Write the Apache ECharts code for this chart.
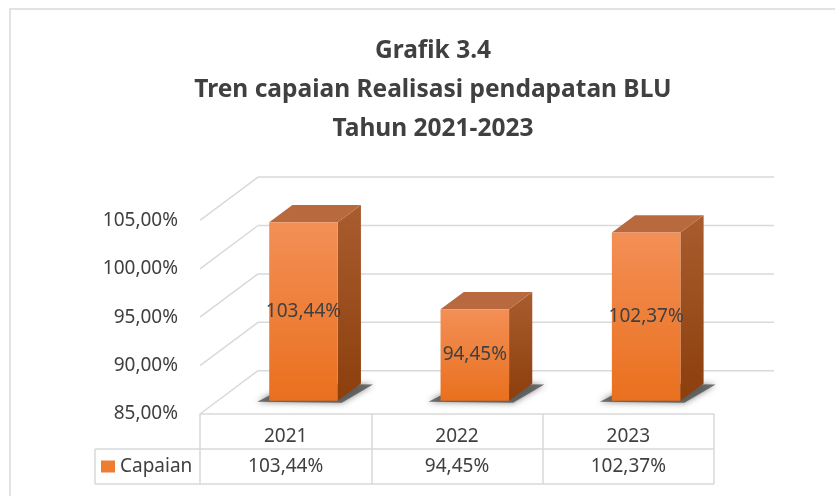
<!DOCTYPE html>
<html>
<head>
<meta charset="utf-8">
<script src="https://cdn.jsdelivr.net/npm/echarts@6/dist/echarts.min.js"></script>
<style>html,body{margin:0;padding:0;background:#fff}#chart{width:835px;height:496px}</style>
</head>
<body>
<div id="chart"></div>
<script>
const years = ['2021', '2022', '2023']
const capaian = [103.44, 94.45, 102.37]
const yTicks = [85, 90, 95, 100, 105]
const seriesName = 'Capaian'

// pseudo 3d depth of floor / walls, in px
const DX = 58, DY = -43.3
const BAR_FRONT = 0.307, BAR_DEPTH = 0.4, BAR_WIDTH = 0.4
const FONT = "'Noto Sans', sans-serif"
const TXT = '#404040', LINE = '#d9d9d9'

function pct(v) { return v.toFixed(2).replace('.', ',') + '%' }

function renderWall(params, api) {
  const cs = params.coordSys
  const y = api.coord([0, api.value(1)])[1]
  const st = { stroke: LINE, lineWidth: 1.5 }
  return {
    type: 'group',
    children: [
      { type: 'line', shape: { x1: cs.x, y1: y, x2: cs.x + DX, y2: y + DY }, style: st },
      { type: 'line', shape: { x1: cs.x + DX, y1: y + DY, x2: cs.x + cs.width + DX + 2, y2: y + DY }, style: st }
    ]
  }
}

function renderBar(params, api) {
  const i = api.value(0), v = api.value(1)
  const top = api.coord([i, v]), base = api.coord([i, yTicks[0]])
  const w = api.size([1, 0])[0] * BAR_WIDTH
  const ox = DX * BAR_FRONT, oy = DY * BAR_FRONT
  const bx = DX * BAR_DEPTH, by = DY * BAR_DEPTH
  const x0 = top[0] - w / 2 + ox, x1 = x0 + w
  const yT = top[1] + oy, yB = base[1] + oy
  return {
    type: 'group',
    children: [
      {
        type: 'polygon',
        shape: { points: [[x0 - 12, yB + 1], [x1 + 4, yB + 2], [x1 + bx + 12, yB + by + 1], [x0 + bx, yB + by]] },
        style: { fill: 'rgba(80,80,80,0.8)', shadowBlur: 6, shadowColor: 'rgba(0,0,0,0.6)' }
      },
      {
        type: 'polygon',
        shape: { points: [[x1, yT], [x1 + bx, yT + by], [x1 + bx, yB + by], [x1, yB]] },
        style: { fill: new echarts.graphic.LinearGradient(0, 0, 0, 1, [{ offset: 0, color: '#a95d2f' }, { offset: 1, color: '#8c3f0c' }]) }
      },
      {
        type: 'polygon',
        shape: { points: [[x0, yT], [x1, yT], [x1 + bx, yT + by], [x0 + bx, yT + by]] },
        style: { fill: '#b86a3e' }
      },
      {
        type: 'rect',
        shape: { x: x0, y: yT, width: w, height: yB - yT },
        style: { fill: new echarts.graphic.LinearGradient(0, 0, 0, 1, [{ offset: 0, color: '#f38f56' }, { offset: 1, color: '#e9701e' }]) }
      },
      {
        type: 'text',
        x: x0 + w / 2, y: (yT + yB) / 2,
        style: { text: pct(v), fill: TXT, fontSize: 19, fontFamily: FONT, align: 'center', verticalAlign: 'middle' }
      }
    ]
  }
}

const chart = echarts.init(document.getElementById('chart'))
chart.setOption({
  animation: false,
  title: {
    text: 'Grafik 3.4\nTren capaian Realisasi pendapatan BLU\nTahun 2021-2023',
    left: 428, top: 27, textAlign: 'center',
    textStyle: { fontSize: 24.5, fontWeight: 'bold', color: TXT, fontFamily: FONT, lineHeight: 39 }
  },
  legend: {
    data: [seriesName], left: 96, top: 452, icon: 'rect', itemWidth: 14, itemHeight: 12,
    textStyle: { fontSize: 19, color: TXT, fontFamily: FONT }
  },
  grid: { left: 200, top: 220.4, width: 514, height: 193.6 },
  xAxis: {
    type: 'category', data: years,
    axisLine: { show: true, onZero: false, lineStyle: { color: LINE, width: 1.5 } },
    axisTick: { show: true, length: 70, lineStyle: { color: LINE, width: 1.5 } },
    axisLabel: {
      margin: 8, fontSize: 19, color: TXT, fontFamily: FONT, lineHeight: 30,
      formatter: (val, idx) => val + '\n' + pct(capaian[idx])
    }
  },
  yAxis: {
    type: 'value', min: 85, max: 105, interval: 5,
    axisLine: { show: false }, axisTick: { show: false }, splitLine: { show: false },
    axisLabel: { margin: 22, fontSize: 19, color: TXT, fontFamily: FONT, formatter: v => pct(v) }
  },
  graphic: [
    { type: 'rect', shape: { x: 10, y: 9, width: 900, height: 600 }, style: { fill: 'transparent', stroke: LINE, lineWidth: 1.5 }, z: -1 },
    { type: 'line', shape: { x1: 95, y1: 449, x2: 714, y2: 449 }, style: { stroke: LINE, lineWidth: 1.5 } },
    { type: 'line', shape: { x1: 95, y1: 484, x2: 714, y2: 484 }, style: { stroke: LINE, lineWidth: 1.5 } },
    { type: 'line', shape: { x1: 95, y1: 449, x2: 95, y2: 484 }, style: { stroke: LINE, lineWidth: 1.5 } }
  ],
  series: [
    {
      type: 'custom', name: 'wall', renderItem: renderWall, silent: true,
      encode: { x: 0, y: 1 },
      data: yTicks.map(v => [0, v])
    },
    {
      type: 'custom', name: seriesName, renderItem: renderBar,
      itemStyle: { color: '#ed7d31' },
      encode: { x: 0, y: 1 },
      data: capaian.map((v, i) => [i, v])
    }
  ]
})
</script>
</body>
</html>
